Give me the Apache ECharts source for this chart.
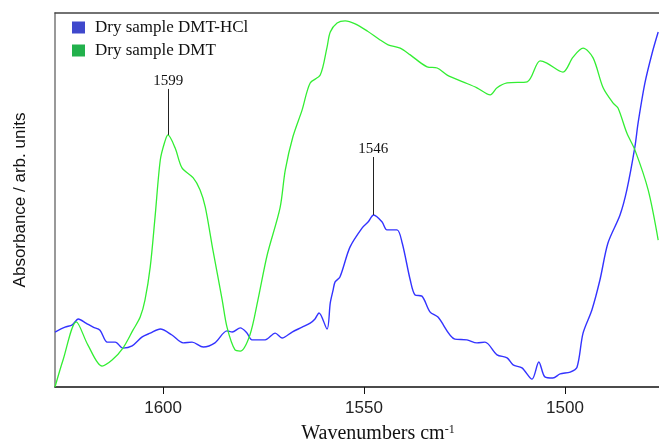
<!DOCTYPE html>
<html>
<head>
<meta charset="utf-8">
<script src="https://cdn.jsdelivr.net/npm/echarts@6/dist/echarts.min.js"></script>
<style>
  html, body { margin: 0; padding: 0; background: #fff; }
  #chart { width: 659px; height: 441px; }
</style>
</head>
<body>
<div id="chart"></div>
<script>
// wavenumber axis (cm-1), drawn high -> low
const xMin = 1476.6
const xMax = 1626.9
const xTicks = [1600, 1550, 1500]

// Dry sample DMT-HCl
const hclWn = [1626.9, 1624.4, 1622.6, 1621.1, 1619.2, 1617.4, 1615.7, 1613.9, 1611.9, 1610.0,
  1607.7, 1605.2, 1603.2, 1600.7, 1597.8, 1595.0, 1592.8, 1590.0, 1587.1, 1584.1,
  1582.8, 1580.8, 1579.1, 1577.9, 1574.6, 1572.1, 1570.4, 1567.9, 1565.4, 1563.4,
  1562.2, 1561.2, 1559.2, 1558.4, 1557.7, 1557.2, 1556.0, 1553.5, 1550.5, 1549.0,
  1547.6, 1545.5, 1544.3, 1541.8, 1540.5, 1538.5, 1537.3, 1535.6, 1533.6, 1531.6,
  1527.4, 1524.4, 1521.9, 1519.9, 1516.9, 1514.4, 1512.9, 1510.7, 1508.2, 1506.5,
  1505.0, 1503.0, 1501.2, 1498.7, 1497.0, 1495.5, 1493.3, 1491.3, 1489.3, 1486.3,
  1484.6, 1482.6, 1481.8, 1480.1, 1478.3, 1476.8]
const hclAbs = [14.7, 16.0, 16.6, 18.2, 17.1, 16.0, 15.2, 12.0, 12.0, 10.4,
  11.0, 13.4, 14.4, 15.5, 13.9, 11.8, 12.0, 10.7, 11.8, 15.0,
  14.7, 15.8, 14.4, 12.6, 12.6, 14.4, 13.1, 14.7, 16.0, 17.1,
  18.2, 19.8, 15.5, 22.5, 25.9, 28.1, 29.4, 37.4, 42.5, 44.1,
  46.0, 44.1, 42.0, 42.0, 38.5, 28.6, 24.6, 24.3, 20.1, 18.7,
  12.8, 12.6, 11.8, 12.0, 8.6, 7.8, 5.9, 5.1, 2.1, 6.7,
  2.7, 2.4, 3.5, 4.0, 5.3, 14.4, 20.6, 28.6, 38.5, 46.0,
  52.7, 64.2, 70.6, 81.3, 89.3, 94.9]

// Dry sample DMT
const dmtWn = [1626.9, 1624.9, 1621.6, 1618.7, 1615.2, 1612.7, 1610.0, 1607.5, 1605.7, 1604.5,
  1603.2, 1602.0, 1600.7, 1599.6, 1598.8, 1597.0, 1595.3, 1592.5, 1590.8, 1589.5,
  1587.6, 1585.3, 1584.1, 1582.1, 1580.8, 1578.4, 1576.4, 1574.1, 1570.9, 1569.6,
  1567.7, 1565.4, 1563.4, 1560.9, 1559.2, 1558.4, 1556.7, 1554.7, 1552.2, 1549.2,
  1546.0, 1544.0, 1541.0, 1538.5, 1534.3, 1531.8, 1529.3, 1525.4, 1521.9, 1518.6,
  1516.9, 1514.4, 1509.4, 1506.2, 1504.5, 1500.5, 1498.0, 1495.5, 1493.0, 1490.5,
  1488.0, 1486.8, 1484.6, 1482.6, 1479.3, 1476.8]
const dmtAbs = [0, 7.2, 17.4, 11.2, 5.6, 7.2, 10.4, 15.2, 18.7, 23.3,
  32.1, 45.5, 60.7, 65.5, 67.4, 63.9, 58.6, 55.9, 52.7, 48.1,
  36.6, 23.3, 16.0, 9.9, 9.6, 13.9, 23.3, 35.3, 47.9, 58.0,
  66.9, 74.1, 81.3, 83.4, 90.9, 94.9, 97.3, 97.9, 97.1, 95.2,
  92.8, 91.5, 90.6, 88.8, 85.6, 85.3, 83.4, 81.6, 80.0, 78.1,
  80.0, 81.3, 81.6, 87.2, 86.6, 84.2, 88.2, 90.6, 88.0, 80.0,
  75.9, 74.6, 67.9, 63.4, 52.7, 39.3]

// peak annotations
const peakText = ['1599', '1546']
const peakWn = [1598.7, 1547.7]
const peakBase = [67.4, 46.0]
const peakTop = [79.7, 61.5]

const zip = (a, b) => a.map((v, i) => [v, b[i]])

const mychart = echarts.init(document.getElementById('chart'))

const option = {
  animation: false,
  grid: { left: 55, right: 0, top: 13, bottom: 54, outerBoundsMode: 'none', containLabel: false },
  legend: {
    orient: 'vertical',
    left: 67,
    top: 14,
    icon: 'rect',
    itemWidth: 13,
    itemHeight: 12,
    itemGap: 6,
    textStyle: { fontFamily: 'Liberation Serif', fontSize: 17, color: '#111', padding: [0, 0, 0, 5] },
    data: [
      { name: 'Dry sample DMT-HCl', itemStyle: { color: '#3f48cc' } },
      { name: 'Dry sample DMT', itemStyle: { color: '#22b14c' } }
    ]
  },
  xAxis: [{
    type: 'value',
    inverse: true,
    min: xMin,
    max: xMax,
    splitLine: { show: false },
    axisLine: { lineStyle: { color: '#111', width: 1.5 } },
    axisTick: { length: 7, lineStyle: { color: '#111' }, customValues: xTicks },
    axisLabel: {
      customValues: xTicks,
      formatter: v => String(v),
      margin: 13,
      fontFamily: 'Liberation Sans',
      fontSize: 17,
      color: '#222'
    },
    name: 'Wavenumbers cm{sup|-1}',
    nameLocation: 'middle',
    nameGap: 37,
    nameTextStyle: {
      fontFamily: 'Liberation Serif',
      fontSize: 20,
      color: '#111',
      padding: [0, 0, 0, 42],
      rich: {
        sup: { fontFamily: 'Liberation Serif', fontSize: 12, verticalAlign: 'top', padding: [0, 0, 8, 0], color: '#111' }
      }
    }
  }, {
    type: 'value',
    position: 'top',
    inverse: true,
    min: xMin,
    max: xMax,
    splitLine: { show: false },
    axisLine: { show: true, lineStyle: { color: '#444', width: 1.5 } },
    axisTick: { show: false },
    axisLabel: { show: false }
  }],
  yAxis: {
    type: 'value',
    min: 0,
    max: 100,
    splitLine: { show: false },
    axisLine: { show: true, lineStyle: { color: '#777', width: 1.5 } },
    axisTick: { show: false },
    axisLabel: { show: false },
    name: 'Absorbance / arb. units',
    nameLocation: 'middle',
    nameGap: 26,
    nameTextStyle: { fontFamily: 'Liberation Sans', fontSize: 17, color: '#111' }
  },
  series: [
    {
      name: 'Dry sample DMT-HCl',
      type: 'line',
      smooth: 0.3,
      symbol: 'none',
      itemStyle: { color: '#3f48cc' },
      lineStyle: { color: '#3333ff', width: 1.4 },
      data: zip(hclWn, hclAbs),
      markLine: {
        silent: true,
        symbol: 'none',
        lineStyle: { color: '#222', width: 1, type: 'solid' },
        label: { position: 'end', distance: 0, fontFamily: 'Liberation Serif', fontSize: 15, color: '#111', formatter: peakText[1] },
        data: [[{ coord: [peakWn[1], peakBase[1]] }, { coord: [peakWn[1], peakTop[1]] }]]
      }
    },
    {
      name: 'Dry sample DMT',
      type: 'line',
      smooth: 0.3,
      symbol: 'none',
      itemStyle: { color: '#22b14c' },
      lineStyle: { color: '#33ee33', width: 1.3 },
      data: zip(dmtWn, dmtAbs),
      markLine: {
        silent: true,
        symbol: 'none',
        lineStyle: { color: '#222', width: 1, type: 'solid' },
        label: { position: 'end', distance: 0, fontFamily: 'Liberation Serif', fontSize: 15, color: '#111', formatter: peakText[0] },
        data: [[{ coord: [peakWn[0], peakBase[0]] }, { coord: [peakWn[0], peakTop[0]] }]]
      }
    }
  ]
}

mychart.setOption(option)
</script>
</body>
</html>
